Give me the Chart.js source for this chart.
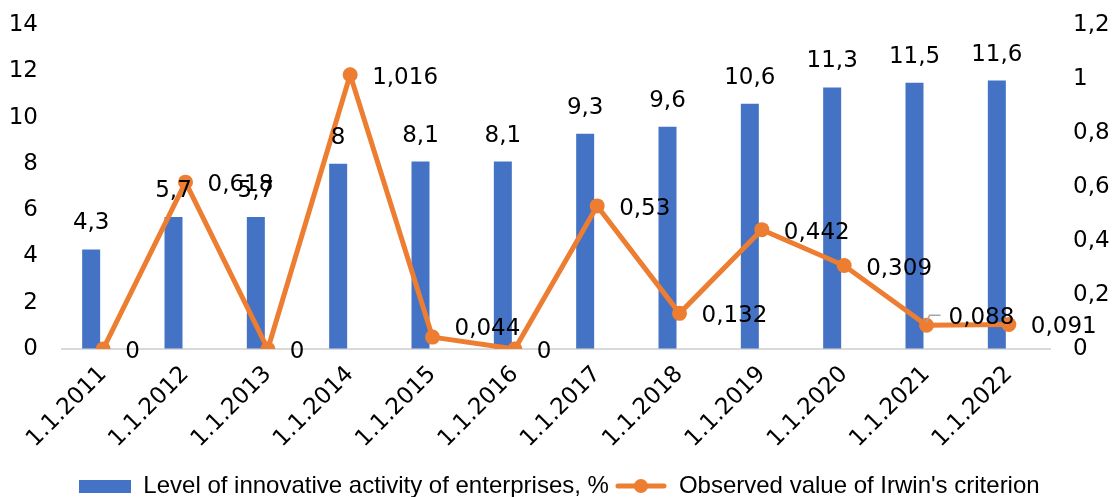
<!DOCTYPE html>
<html>
<head>
<meta charset="utf-8">
<script src="https://cdn.jsdelivr.net/npm/chart.js@4.4.1/dist/chart.umd.min.js"></script>
<style>
  html, body { margin: 0; padding: 0; background: #fff; }
  #wrap { width: 1119px; height: 497px; }
</style>
</head>
<body>
<div id="wrap"><canvas id="chart"></canvas></div>
<script>
const years = [
  "1.1.2011", "1.1.2012", "1.1.2013", "1.1.2014", "1.1.2015", "1.1.2016",
  "1.1.2017", "1.1.2018", "1.1.2019", "1.1.2020", "1.1.2021", "1.1.2022",
];
const innovationLevel = [4.3, 5.7, 5.7, 8, 8.1, 8.1, 9.3, 9.6, 10.6, 11.3, 11.5, 11.6];
const irwinValues = [0, 0.618, 0, 1.016, 0.044, 0, 0.53, 0.132, 0.442, 0.309, 0.088, 0.091];
const leftTicks = [0, 2, 4, 6, 8, 10, 12, 14];
const rightTicks = [0, 0.2, 0.4, 0.6, 0.8, 1, 1.2];

const BLUE = "#4472C4";
const ORANGE = "#ED7D31";
const NUM_FONT = "'DejaVu Sans', sans-serif";
const TEXT_FONT = "'Liberation Sans', Arial, sans-serif";

// vertical nudges for a couple of crowded line labels
const lineLabelShift = [0, 0, 0, 0, -11, 0, 0, 0, 0, 0, -10, 0];

const fmt = (v) => String(v).replace(".", ",");

Chart.defaults.font.family = NUM_FONT;
Chart.defaults.color = "#000";

// legend swatches
const barSwatch = document.createElement("canvas");
barSwatch.width = 52;
barSwatch.height = 13;
(() => {
  const c = barSwatch.getContext("2d");
  c.fillStyle = BLUE;
  c.fillRect(0, 0, 52, 13);
})();

const lineSwatch = document.createElement("canvas");
lineSwatch.width = 52;
lineSwatch.height = 16;
(() => {
  const c = lineSwatch.getContext("2d");
  c.strokeStyle = ORANGE;
  c.lineWidth = 5;
  c.lineCap = "round";
  c.beginPath();
  c.moveTo(3, 8);
  c.lineTo(49, 8);
  c.stroke();
  c.fillStyle = ORANGE;
  c.beginPath();
  c.arc(26, 8, 7, 0, Math.PI * 2);
  c.fill();
})();

const valueLabels = {
  id: "valueLabels",
  afterDatasetsDraw(chart) {
    const ctx = chart.ctx;
    ctx.save();
    ctx.font = "23px " + NUM_FONT;
    ctx.fillStyle = "#000";
    ctx.textBaseline = "alphabetic";

    ctx.textAlign = "center";
    chart.getDatasetMeta(0).data.forEach((bar, i) => {
      ctx.fillText(fmt(innovationLevel[i]), bar.x, bar.y - 20);
    });

    ctx.textAlign = "left";
    chart.getDatasetMeta(2).data.forEach((pt, i) => {
      const dy = lineLabelShift[i];
      if (i === 10) {
        // small leader line
        ctx.strokeStyle = "#A6A6A6";
        ctx.lineWidth = 1.5;
        ctx.beginPath();
        ctx.moveTo(pt.x, pt.y - 3);
        ctx.lineTo(pt.x + 3, pt.y - 10);
        ctx.lineTo(pt.x + 14, pt.y - 10);
        ctx.stroke();
      }
      ctx.fillText(fmt(irwinValues[i]), pt.x + 22, pt.y + 9 + dy);
    });
    ctx.restore();
  },
};

// hidden tick marks give the label gap without inflating the axis overhang
const hiddenTicks = (len) => ({
  display: true,
  drawOnChartArea: false,
  drawTicks: true,
  tickLength: len,
  color: "rgba(0,0,0,0)",
});

new Chart(document.getElementById("chart"), {
  data: {
    labels: years,
    datasets: [
      {
        type: "bar",
        label: "Level of innovative activity of enterprises, %",
        data: innovationLevel,
        backgroundColor: BLUE,
        yAxisID: "y",
        order: 1,
        categoryPercentage: 0.583,
        barPercentage: 0.75,
      },
      {
        // empty companion slot, keeps the bars left of the line points
        type: "bar",
        label: "",
        data: years.map(() => null),
        yAxisID: "y",
        order: 2,
        categoryPercentage: 0.583,
        barPercentage: 0.75,
      },
      {
        type: "line",
        label: "Observed value of Irwin's criterion",
        data: irwinValues,
        borderColor: ORANGE,
        backgroundColor: ORANGE,
        borderWidth: 5,
        pointRadius: 7.5,
        pointHoverRadius: 7.5,
        pointBorderWidth: 0,
        yAxisID: "y1",
        order: 0,
      },
    ],
  },
  options: {
    responsive: true,
    maintainAspectRatio: false,
    animation: false,
    layout: { padding: { top: 25, left: 0, right: 0, bottom: -11 } },
    scales: {
      x: {
        grid: { display: false },
        border: { display: true, color: "#D9D9D9", width: 2 },
        ticks: {
          font: { size: 23 },
          minRotation: 45,
          maxRotation: 45,
          padding: 4,
          autoSkip: false,
        },
        afterFit: (s) => { s.height = 119; },
      },
      y: {
        position: "left",
        min: 0,
        max: 14,
        grid: hiddenTicks(20),
        border: { display: false },
        afterBuildTicks: (s) => { s.ticks = leftTicks.map((v) => ({ value: v })); },
        ticks: { font: { size: 23 }, padding: 4, callback: (v) => fmt(v) },
        afterFit: (s) => { s.width = 62; },
      },
      y1: {
        position: "right",
        min: 0,
        max: 1.2,
        grid: hiddenTicks(19),
        border: { display: false },
        afterBuildTicks: (s) => { s.ticks = rightTicks.map((v) => ({ value: v })); },
        ticks: { font: { size: 23 }, padding: 4, callback: (v) => fmt(v) },
        afterFit: (s) => { s.width = 69; },
      },
    },
    plugins: {
      tooltip: { enabled: false },
      legend: {
        position: "bottom",
        onClick: null,
        labels: {
          usePointStyle: true,
          pointStyleWidth: 52,
          padding: 6,
          font: { size: 24, family: TEXT_FONT },
          color: "#000",
          generateLabels: () => [
            {
              text: "Level of innovative activity of enterprises, %",
              pointStyle: barSwatch,
              fillStyle: BLUE,
              strokeStyle: BLUE,
              lineWidth: 0,
              hidden: false,
              datasetIndex: 0,
            },
            {
              text: "Observed value of Irwin's criterion",
              pointStyle: lineSwatch,
              fillStyle: ORANGE,
              strokeStyle: ORANGE,
              lineWidth: 0,
              hidden: false,
              datasetIndex: 2,
            },
          ],
        },
      },
    },
  },
  plugins: [valueLabels],
});
</script>
</body>
</html>
